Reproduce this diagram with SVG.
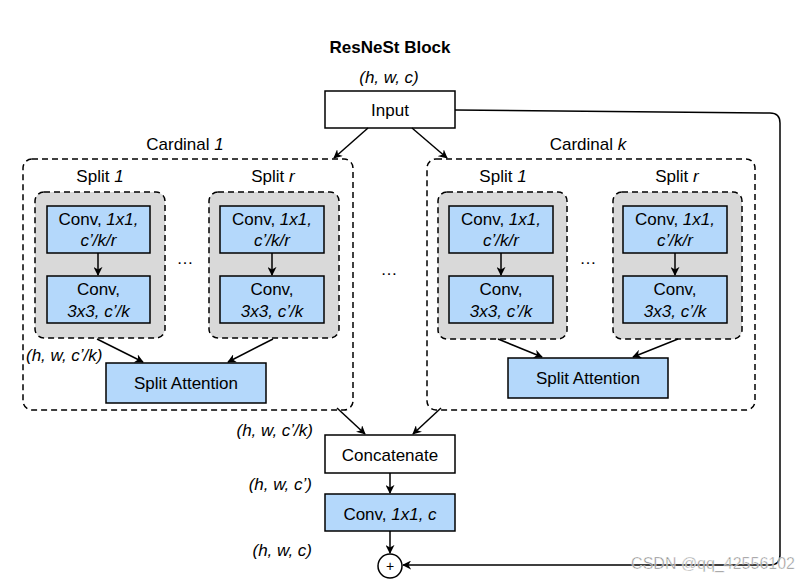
<svg xmlns="http://www.w3.org/2000/svg" width="811" height="582" viewBox="0 0 811 582">
<defs>
<marker id="ah" viewBox="0 0 10 10" refX="9" refY="5" markerWidth="9" markerHeight="9" markerUnits="userSpaceOnUse" orient="auto">
<path d="M0,0 L10,5 L0,10 L3,5 Z" fill="#000"/>
</marker>
<style>
text{font-family:"Liberation Sans",Arial,sans-serif;font-size:17px;fill:#000}
.c{text-anchor:middle}
.r{text-anchor:end}
.i{font-style:italic}
.box{fill:#fff;stroke:#000;stroke-width:1.5}
.blue{fill:#b4d8fb;stroke:#000;stroke-width:1.5}
.gray{fill:#d9d9d9;stroke:#000;stroke-width:1.5;stroke-dasharray:6 4}
.card{fill:#fff;stroke:#000;stroke-width:1.5;stroke-dasharray:6 4}
.ln{fill:none;stroke:#000;stroke-width:1.5;marker-end:url(#ah)}
</style>
</defs>
<rect width="811" height="582" fill="#fff"/>
<text x="390" y="53" class="c" style="font-weight:bold">ResNeSt Block</text>
<text x="389" y="83" class="c i">(h, w, c)</text>

<g id="cardinal1">
<rect x="23" y="159" width="330" height="251" rx="9" class="card"/>
<text x="185" y="150" class="c">Cardinal <tspan class="i">1</tspan></text>
</g>
<g id="cardinalk">
<rect x="427" y="159" width="328" height="251" rx="9" class="card"/>
<text x="588" y="150" class="c">Cardinal <tspan class="i">k</tspan></text>
</g>

<g id="c1-split1">
<text x="100" y="182" class="c">Split <tspan class="i">1</tspan></text>
<rect x="35" y="192" width="130" height="146" rx="9" class="gray"/>
</g>
<g id="c1-splitr">
<text x="273" y="182" class="c">Split <tspan class="i">r</tspan></text>
<rect x="209" y="192" width="130" height="146" rx="9" class="gray"/>
</g>
<g id="ck-split1">
<text x="503" y="182" class="c">Split <tspan class="i">1</tspan></text>
<rect x="438" y="192" width="129" height="147" rx="9" class="gray"/>
</g>
<g id="ck-splitr">
<text x="677" y="182" class="c">Split <tspan class="i">r</tspan></text>
<rect x="613" y="192" width="129" height="147" rx="9" class="gray"/>
</g>

<g id="c1-s1-conv1">
<rect x="47" y="206" width="103" height="47" class="blue"/>
<text x="98.5" y="225" class="c">Conv, <tspan class="i">1x1,</tspan></text>
<text x="98.5" y="246" class="c i">c’/k/r</text>
</g>
<g id="c1-s1-conv3">
<rect x="47" y="276" width="103" height="47" class="blue"/>
<text x="98.5" y="295" class="c">Conv,</text>
<text x="98.5" y="317" class="c i">3x3, c’/k</text>
</g>
<g id="c1-sr-conv1">
<rect x="220" y="206" width="104" height="47" class="blue"/>
<text x="272" y="225" class="c">Conv, <tspan class="i">1x1,</tspan></text>
<text x="272" y="246" class="c i">c’/k/r</text>
</g>
<g id="c1-sr-conv3">
<rect x="220" y="276" width="104" height="47" class="blue"/>
<text x="272" y="295" class="c">Conv,</text>
<text x="272" y="317" class="c i">3x3, c’/k</text>
</g>
<g id="ck-s1-conv1">
<rect x="449" y="206" width="104" height="47" class="blue"/>
<text x="501" y="225" class="c">Conv, <tspan class="i">1x1,</tspan></text>
<text x="501" y="246" class="c i">c’/k/r</text>
</g>
<g id="ck-s1-conv3">
<rect x="449" y="276" width="104" height="47" class="blue"/>
<text x="501" y="295" class="c">Conv,</text>
<text x="501" y="317" class="c i">3x3, c’/k</text>
</g>
<g id="ck-sr-conv1">
<rect x="623" y="206" width="104" height="47" class="blue"/>
<text x="675" y="225" class="c">Conv, <tspan class="i">1x1,</tspan></text>
<text x="675" y="246" class="c i">c’/k/r</text>
</g>
<g id="ck-sr-conv3">
<rect x="623" y="276" width="104" height="47" class="blue"/>
<text x="675" y="295" class="c">Conv,</text>
<text x="675" y="317" class="c i">3x3, c’/k</text>
</g>

<g id="c1-attn">
<rect x="106" y="363" width="160" height="40" class="blue"/>
<text x="186" y="389" class="c">Split Attention</text>
</g>
<g id="ck-attn">
<rect x="508" y="358" width="160" height="40" class="blue"/>
<text x="588" y="384" class="c">Split Attention</text>
</g>

<g id="input">
<rect x="325" y="91" width="130" height="37" class="box"/>
<text x="390" y="116" class="c">Input</text>
</g>
<g id="concat">
<rect x="325" y="435" width="130" height="38" class="box"/>
<text x="390" y="461" class="c">Concatenate</text>
</g>
<g id="conv-out">
<rect x="325" y="494" width="130" height="37" class="blue"/>
<text x="390" y="520" class="c">Conv, <tspan class="i">1x1, c</tspan></text>
</g>
<g id="plus">
<circle cx="390" cy="566" r="12" fill="#fff" stroke="#000" stroke-width="1.5"/>
<text x="390" y="571" class="c" style="font-size:14px">+</text>
</g>

<g id="labels">
<text x="26" y="361" class="i">(h, w, c’/k)</text>
<text x="313" y="436" class="r i">(h, w, c’/k)</text>
<text x="312" y="490" class="r i">(h, w, c’)</text>
<text x="312" y="556" class="r i">(h, w, c)</text>
<text x="185" y="264" class="c">…</text>
<text x="588" y="264" class="c">…</text>
<text x="389" y="275" class="c">…</text>
</g>

<g id="connectors">
<line x1="368" y1="128" x2="334" y2="158" class="ln"/>
<line x1="412" y1="128" x2="447" y2="158" class="ln"/>
<line x1="98" y1="253" x2="98" y2="275" class="ln"/>
<line x1="272" y1="253" x2="272" y2="275" class="ln"/>
<line x1="501" y1="253" x2="501" y2="275" class="ln"/>
<line x1="675" y1="253" x2="675" y2="275" class="ln"/>
<line x1="97" y1="339" x2="143" y2="362" class="ln"/>
<line x1="273" y1="339" x2="228" y2="362" class="ln"/>
<line x1="498" y1="339" x2="542" y2="357" class="ln"/>
<line x1="678" y1="339" x2="633" y2="357" class="ln"/>
<line x1="337" y1="408" x2="365" y2="434" class="ln"/>
<line x1="441" y1="408" x2="413" y2="434" class="ln"/>
<line x1="390" y1="473" x2="390" y2="493" class="ln"/>
<line x1="390" y1="531" x2="390" y2="553" class="ln"/>
<path d="M455,110 L770,113 Q780,113 780,123 L780,555 Q780,565 770,565 L403,565" class="ln"/>
</g>

<text x="795" y="569" class="r" style="font-size:16px;fill:#777;stroke:#fff;stroke-width:0.5;opacity:0.9">CSDN @qq_42556102</text>
</svg>
